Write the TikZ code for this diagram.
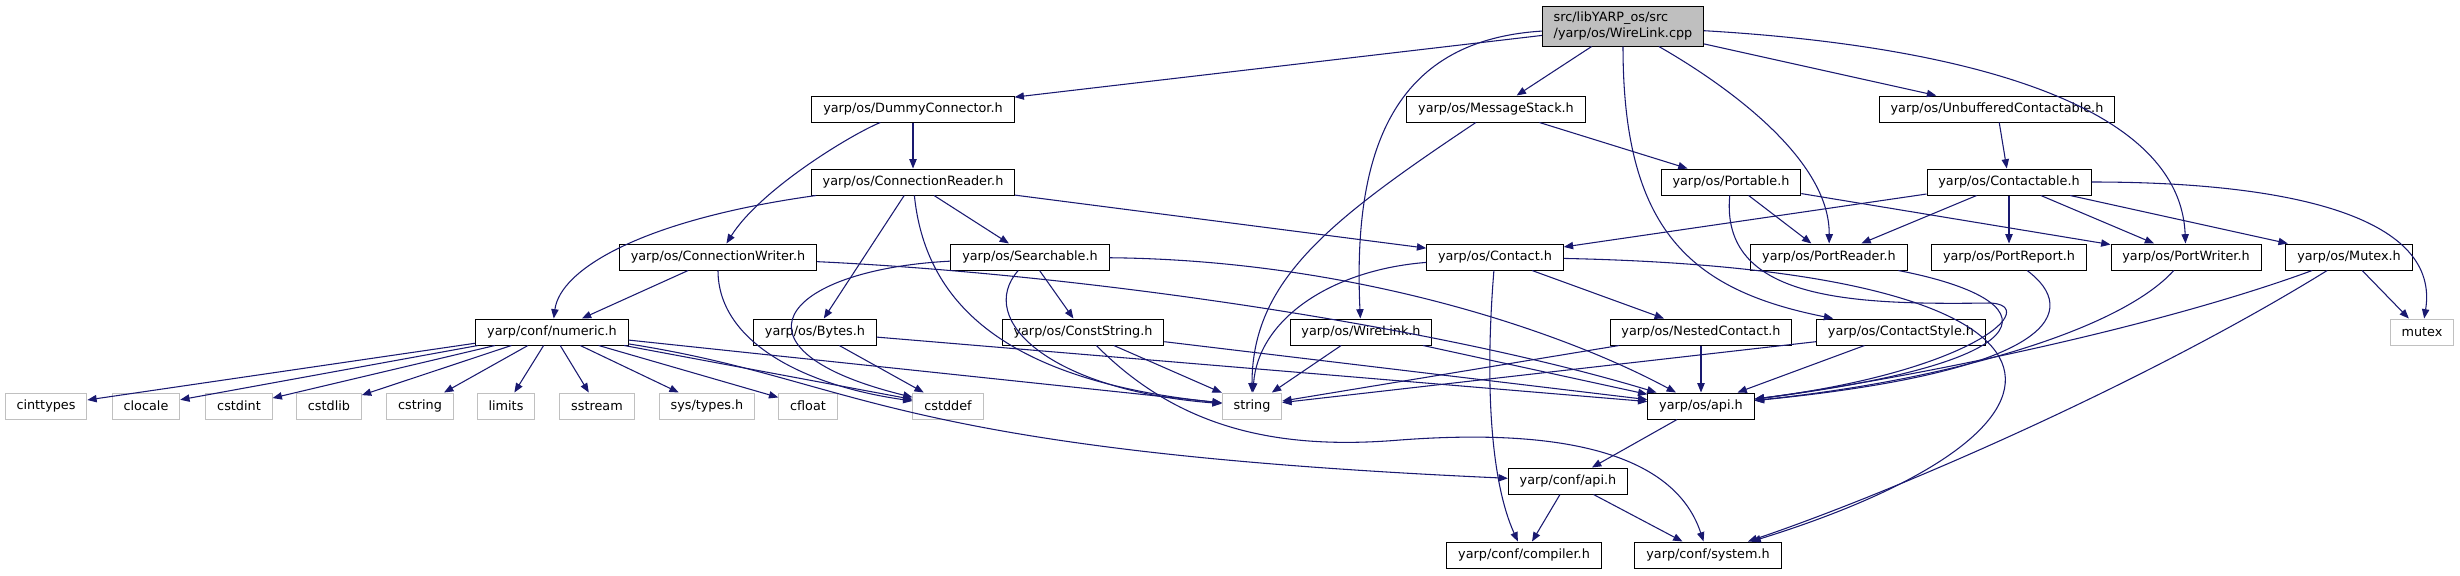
\documentclass[tikz,border=0pt]{standalone}
\usepackage{fontspec}
\newfontfamily\dejavu{DejaVu Sans}
\usepackage{tikz}
\usetikzlibrary{
	positioning,
	arrows.meta
}
\definecolor{edgeblue}{HTML}{191970}
\definecolor{rootgray}{HTML}{BFBFBF}
\definecolor{sysgray}{HTML}{C0C0C0}

\begin{document}
\begin{tikzpicture}[
				x=0.75pt, y=-0.75pt,
				hdr/.style={draw=black, line width=0.75pt, fill=white, font=\dejavu\fontsize{9.6}{12}\selectfont, inner xsep=8.5pt, inner ysep=1pt, minimum height=19.5pt},
				syshdr/.style={hdr, draw=sysgray},
				rootfile/.style={hdr, fill=rootgray, align=left, minimum height=30pt},
				dep/.style={draw=edgeblue, line width=0.8pt, -{Triangle[length=7pt, width=5.5pt]}}
			]
				\useasboundingbox (0,0) rectangle (2460,575);
				% 根文件
				\node[rootfile] (root) at (1623,26) {src/libYARP\_os/src\\/yarp/os/WireLink.cpp};
				% 第一层
				\node[hdr] (dummy)       at (913,109)  {yarp/os/DummyConnector.h};
				\node[hdr] (msgstack)    at (1496,109) {yarp/os/MessageStack.h};
				\node[hdr] (unbuf)       at (1997,109) {yarp/os/UnbufferedContactable.h};
				% 第二层
				\node[hdr] (connreader)  at (913,182)  {yarp/os/ConnectionReader.h};
				\node[hdr] (portable)    at (1731,182) {yarp/os/Portable.h};
				\node[hdr] (contactable) at (2009,182) {yarp/os/Contactable.h};
				% 第三层
				\node[hdr] (connwriter)  at (718,257)  {yarp/os/ConnectionWriter.h};
				\node[hdr] (searchable)  at (1030,257) {yarp/os/Searchable.h};
				\node[hdr] (contact)     at (1495,257) {yarp/os/Contact.h};
				\node[hdr] (portreader)  at (1829,257) {yarp/os/PortReader.h};
				\node[hdr] (portreport)  at (2009,257) {yarp/os/PortReport.h};
				\node[hdr] (portwriter)  at (2186,257) {yarp/os/PortWriter.h};
				\node[hdr] (mutexh)      at (2349,257) {yarp/os/Mutex.h};
				% 第四层
				\node[hdr] (numeric)     at (552,332)  {yarp/conf/numeric.h};
				\node[hdr] (bytes)       at (815,332)  {yarp/os/Bytes.h};
				\node[hdr] (conststring) at (1083,332) {yarp/os/ConstString.h};
				\node[hdr] (wirelinkh)   at (1361,332) {yarp/os/WireLink.h};
				\node[hdr] (nested)      at (1701,332) {yarp/os/NestedContact.h};
				\node[hdr] (contactstyle) at (1901,332) {yarp/os/ContactStyle.h};
				\node[syshdr] (stdmutex) at (2422,332) {mutex};
				% 标准头文件
				\node[syshdr] (cinttypes) at (46,406)  {cinttypes};
				\node[syshdr] (clocale)   at (146,406) {clocale};
				\node[syshdr] (cstdint)   at (239,406) {cstdint};
				\node[syshdr] (cstdlib)   at (329,406) {cstdlib};
				\node[syshdr] (cstring)   at (420,406) {cstring};
				\node[syshdr] (limits)    at (506,406) {limits};
				\node[syshdr] (sstream)   at (597,406) {sstream};
				\node[syshdr] (systypes)  at (707,406) {sys/types.h};
				\node[syshdr] (cfloat)    at (808,406) {cfloat};
				\node[syshdr] (cstddef)   at (948,406) {cstddef};
				\node[syshdr] (stdstring) at (1252,406) {string};
				\node[hdr] (osapi)        at (1701,406) {yarp/os/api.h};
				% 底层
				\node[hdr] (confapi)      at (1568,481) {yarp/conf/api.h};
				\node[hdr] (compiler)     at (1524,555) {yarp/conf/compiler.h};
				\node[hdr] (system)       at (1708,555) {yarp/conf/system.h};
				% 根文件的依赖
				\draw[dep] (root) -- (dummy);
				\draw[dep] (root) -- (msgstack);
				\draw[dep] (root) -- (unbuf);
				\draw[dep] (root) .. controls (1400,40) and (1352,140) .. (wirelinkh);
				\draw[dep] (root) .. controls (1623,230) and (1690,290) .. (contactstyle);
				\draw[dep] (root) .. controls (1700,70) and (1830,150) .. (portreader);
				\draw[dep] (root) .. controls (1950,45) and (2180,100) .. (portwriter);
				% 第一层的依赖
				\draw[dep] (dummy) -- (connreader);
				\draw[dep] (dummy) .. controls (850,135) and (760,190) .. (connwriter);
				\draw[dep] (msgstack) .. controls (1330,220) and (1252,280) .. (stdstring);
				\draw[dep] (msgstack) -- (portable);
				\draw[dep] (unbuf) -- (contactable);
				% 第二层的依赖
				\draw[dep] (connreader) -- (searchable);
				\draw[dep] (connreader) -- (contact);
				\draw[dep] (connreader) .. controls (640,220) and (560,270) .. (numeric);
				\draw[dep] (connreader) -- (bytes);
				\draw[dep] (connreader) .. controls (925,300) and (1000,380) .. (stdstring);
				\draw[dep] (portable) -- (portreader);
				\draw[dep] (portable) -- (portwriter);
				\draw[dep] (portable) .. controls (1720,300) and (1850,305) .. (1990,303) .. controls (2040,305) and (1980,370) .. (osapi);
				\draw[dep] (contactable) -- (contact);
				\draw[dep] (contactable) -- (portreader);
				\draw[dep] (contactable) -- (portreport);
				\draw[dep] (contactable) -- (portwriter);
				\draw[dep] (contactable) -- (mutexh);
				\draw[dep] (contactable) .. controls (2300,182) and (2440,220) .. (stdmutex);
				% 第三层的依赖
				\draw[dep] (connwriter) -- (numeric);
				\draw[dep] (connwriter) .. controls (718,340) and (800,385) .. (cstddef);
				\draw[dep] (connwriter) .. controls (1100,275) and (1450,330) .. (osapi);
				\draw[dep] (searchable) -- (conststring);
				\draw[dep] (searchable) .. controls (975,320) and (1050,390) .. (stdstring);
				\draw[dep] (searchable) .. controls (1350,260) and (1560,330) .. (osapi);
				\draw[dep] (searchable) .. controls (780,270) and (720,350) .. (cstddef);
				\draw[dep] (contact) .. controls (1330,270) and (1258,320) .. (stdstring);
				\draw[dep] (contact) -- (nested);
				\draw[dep] (contact) .. controls (1485,380) and (1490,480) .. (compiler);
				\draw[dep] (contact) .. controls (2120,270) and (2110,430) .. (system);
				\draw[dep] (portreader) .. controls (2050,300) and (2060,360) .. (osapi);
				\draw[dep] (portreport) .. controls (2080,310) and (2060,370) .. (osapi);
				\draw[dep] (portwriter) .. controls (2120,330) and (1950,380) .. (osapi);
				\draw[dep] (mutexh) -- (stdmutex);
				\draw[dep] (mutexh) .. controls (2150,330) and (1900,380) .. (osapi);
				\draw[dep] (mutexh) .. controls (2150,380) and (1900,490) .. (system);
				% 第四层的依赖
				\draw[dep] (numeric) -- (cinttypes);
				\draw[dep] (numeric) -- (clocale);
				\draw[dep] (numeric) -- (cstdint);
				\draw[dep] (numeric) -- (cstdlib);
				\draw[dep] (numeric) -- (cstring);
				\draw[dep] (numeric) -- (limits);
				\draw[dep] (numeric) -- (sstream);
				\draw[dep] (numeric) -- (systypes);
				\draw[dep] (numeric) -- (cfloat);
				\draw[dep] (numeric) -- (cstddef);
				\draw[dep] (numeric) -- (stdstring);
				\draw[dep] (numeric) .. controls (860,380) and (880,450) .. (confapi);
				\draw[dep] (bytes) -- (cstddef);
				\draw[dep] (bytes) -- (osapi);
				\draw[dep] (conststring) -- (stdstring);
				\draw[dep] (conststring) -- (osapi);
				\draw[dep] (conststring) .. controls (1180,430) and (1280,450) .. (1400,440) .. controls (1600,425) and (1680,470) .. (system);
				\draw[dep] (wirelinkh) -- (stdstring);
				\draw[dep] (wirelinkh) -- (osapi);
				\draw[dep] (nested) -- (stdstring);
				\draw[dep] (nested) -- (osapi);
				\draw[dep] (contactstyle) -- (stdstring);
				\draw[dep] (contactstyle) -- (osapi);
				% 底层的依赖
				\draw[dep] (osapi) -- (confapi);
				\draw[dep] (confapi) -- (compiler);
				\draw[dep] (confapi) -- (system);
			\end{tikzpicture}
\end{document}
